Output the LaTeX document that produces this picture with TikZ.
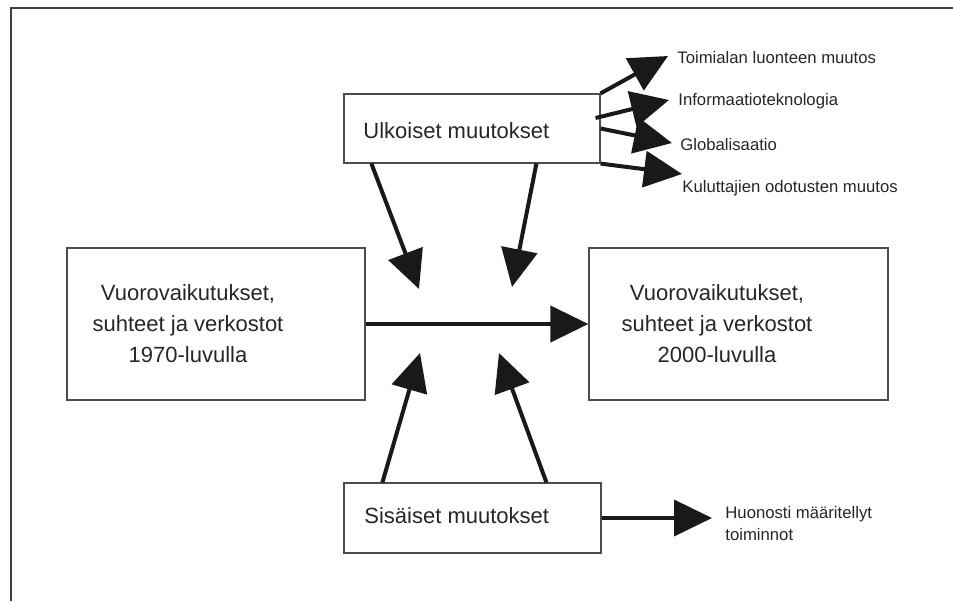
\documentclass[tikz,border=0pt]{standalone}
\usepackage{fontspec}
\setmainfont{Liberation Sans}
\usetikzlibrary{arrows.meta,positioning}

\begin{document}
\begin{tikzpicture}[
            x=0.5pt, y=-0.5pt,
            box/.style={rectangle, draw=black!70, line width=0.6pt},
            txt/.style={inner sep=0pt, font=\fontsize{11}{15.5}\selectfont, text=black!85},
            small/.style={inner sep=0pt, font=\fontsize{8.35}{11}\selectfont, text=black!85},
            arrow/.style={-{Triangle[length=19pt, width=18pt]}, line width=2pt, black!90}
        ]
            \useasboundingbox (0,0) rectangle (953,601);
            \draw[line width=0.75pt, black!75] (11,601) -- (11,8) -- (953,8);

            \node[box, minimum width=128pt, minimum height=34.5pt] (ulko) at (472,128.5) {};
            \node[box, minimum width=128.5pt, minimum height=35pt] (sisa) at (472.5,518) {};
            \node[box, minimum width=149pt, minimum height=76pt] (past) at (216,324) {};
            \node[box, minimum width=149.5pt, minimum height=76pt] (future) at (738.5,324) {};

            \node[txt, anchor=west] (ulkotxt) at (363,130.5) {Ulkoiset muutokset};
            \node[txt, anchor=west] (sisatxt) at (364,515.5) {Sisäiset muutokset};
            \node[txt, align=center] (pasttxt) at (188,324) {Vuorovaikutukset,\\suhteet ja verkostot\\1970-luvulla};
            \node[txt, align=center] (futuretxt) at (717,324) {Vuorovaikutukset,\\suhteet ja verkostot\\2000-luvulla};

            \node[small, anchor=base west] (toim) at (677,63) {Toimialan luonteen muutos};
            \node[small, anchor=base west] (info) at (678,105) {Informaatioteknologia};
            \node[small, anchor=base west] (glob) at (680,150) {Globalisaatio};
            \node[small, anchor=base west] (kulu) at (682,192) {Kuluttajien odotusten muutos};
            \node[small, anchor=north west, align=left] (huon) at (725,506) {Huonosti määritellyt\\toiminnot};

            \coordinate (d1) at (419,289);
            \coordinate (d2) at (512,287);
            \coordinate (u1) at (420,353);
            \coordinate (u2) at (499,353);

            \draw[arrow] (past) -- (future);
            \draw[arrow] ([xshift=14pt]ulko.south west) -- (d1);
            \draw[arrow] ([xshift=96.5pt]ulko.south west) -- (d2);
            \draw[arrow] ([xshift=19.5pt]sisa.north west) -- (u1);
            \draw[arrow] ([xshift=101.5pt]sisa.north west) -- (u2);
            \draw[arrow, shorten >=6.5pt] (sisa) -- (sisa -| huon.west);

            \draw[arrow] (ulko.north east) -- ([shift={(-9,-7)}]toim.base west);
            \draw[arrow] ([shift={(-5,-10.5)}]ulko.east) -- ([shift={(-9,-5)}]info.base west);
            \draw[arrow] (ulko.east) -- ([shift={(-8,-7)}]glob.base west);
            \draw[arrow] (ulko.south east) -- ([shift={(0,-18)}]kulu.base west);
        \end{tikzpicture}
\end{document}
